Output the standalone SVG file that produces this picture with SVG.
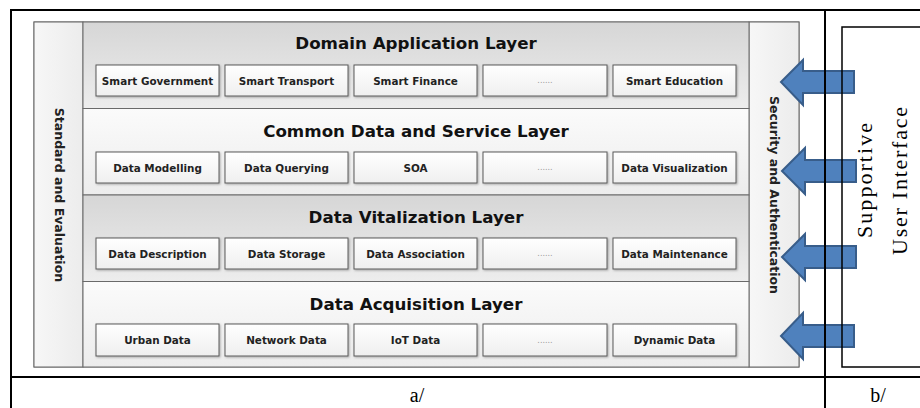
<svg xmlns="http://www.w3.org/2000/svg" width="920" height="408" viewBox="0 0 920 408">
<defs>
<linearGradient id="gDark" x1="0" y1="0" x2="0" y2="1"><stop offset="0" stop-color="#d6d6d6"/><stop offset="1" stop-color="#ededed"/></linearGradient>
<linearGradient id="gLight" x1="0" y1="0" x2="0" y2="1"><stop offset="0" stop-color="#fbfbfb"/><stop offset="1" stop-color="#ececec"/></linearGradient>
<linearGradient id="gBox" x1="0" y1="0" x2="0" y2="1"><stop offset="0" stop-color="#ffffff"/><stop offset="1" stop-color="#efefef"/></linearGradient>
<linearGradient id="gSide" x1="0" y1="0" x2="1" y2="0"><stop offset="0" stop-color="#f7f7f7"/><stop offset="1" stop-color="#ececec"/></linearGradient>
<filter id="sh" x="-5%" y="-10%" width="115%" height="130%"><feDropShadow dx="1" dy="1" stdDeviation="0.8" flood-color="#000" flood-opacity="0.3"/></filter>
</defs>
<style>
.layer{stroke:#6a6a6a;stroke-width:1}
.box{fill:url(#gBox);stroke:#5a5a5a;stroke-width:1;filter:url(#sh)}
.title{font-family:"DejaVu Sans",Verdana,sans-serif;font-weight:bold;font-size:16.7px;fill:#111;text-anchor:middle}
.bt{font-family:"DejaVu Sans",Verdana,sans-serif;font-weight:bold;font-size:10.4px;fill:#222;text-anchor:middle}
.dots{font-family:"DejaVu Sans",Verdana,sans-serif;font-size:8px;fill:#999;text-anchor:middle}
.vt{font-family:"DejaVu Sans",Verdana,sans-serif;font-weight:bold;font-size:12.5px;fill:#222;text-anchor:middle}
.arrow{fill:#4f81bd;stroke:#385d8a;stroke-width:2;stroke-linejoin:miter}
.tl{fill:none;stroke:#000;stroke-width:2}
.serif{font-family:"Liberation Serif","Times New Roman",serif;fill:#000}
</style>
<rect width="920" height="408" fill="#fff"/>

<g id="diagram-frame">
<rect x="34" y="22" width="765" height="345" fill="#f2f2f2" stroke="#666" stroke-width="1"/>
</g>

<g id="standard-evaluation">
<rect x="34" y="22" width="49" height="345" fill="url(#gSide)" stroke="#666" stroke-width="1"/>
<text class="vt" transform="translate(55,195) rotate(90)">Standard and Evaluation</text>
</g>

<g id="security-authentication">
<rect x="749" y="22" width="50" height="345" fill="url(#gSide)" stroke="#666" stroke-width="1"/>
<text class="vt" transform="translate(769.5,195) rotate(90)">Security and Authentication</text>
</g>

<g id="domain-layer">
<rect class="layer" x="83" y="22" width="666" height="86.5" fill="url(#gDark)"/>
<text class="title" x="416" y="49">Domain Application Layer</text>
<rect class="box" x="96" y="65" width="123" height="31"/><text class="bt" x="157.5" y="84.5">Smart Government</text>
<rect class="box" x="225" y="65" width="123" height="31"/><text class="bt" x="286.5" y="84.5">Smart Transport</text>
<rect class="box" x="354" y="65" width="123" height="31"/><text class="bt" x="415.5" y="84.5">Smart Finance</text>
<rect class="box" x="483" y="65" width="124" height="31"/><text class="dots" x="545" y="83">......</text>
<rect class="box" x="613" y="65" width="123" height="31"/><text class="bt" x="674.5" y="84.5">Smart Education</text>
</g>

<g id="common-layer">
<rect class="layer" x="83" y="108.5" width="666" height="86.5" fill="url(#gLight)"/>
<text class="title" x="416" y="137">Common Data and Service Layer</text>
<rect class="box" x="96" y="152" width="123" height="31"/><text class="bt" x="157.5" y="171.5">Data Modelling</text>
<rect class="box" x="225" y="152" width="123" height="31"/><text class="bt" x="286.5" y="171.5">Data Querying</text>
<rect class="box" x="354" y="152" width="123" height="31"/><text class="bt" x="415.5" y="171.5">SOA</text>
<rect class="box" x="483" y="152" width="124" height="31"/><text class="dots" x="545" y="170">......</text>
<rect class="box" x="613" y="152" width="123" height="31"/><text class="bt" x="674.5" y="171.5">Data Visualization</text>
</g>

<g id="vitalization-layer">
<rect class="layer" x="83" y="195" width="666" height="86.5" fill="url(#gDark)"/>
<text class="title" x="416" y="223">Data Vitalization Layer</text>
<rect class="box" x="96" y="238" width="123" height="31"/><text class="bt" x="157.5" y="257.5">Data Description</text>
<rect class="box" x="225" y="238" width="123" height="31"/><text class="bt" x="286.5" y="257.5">Data Storage</text>
<rect class="box" x="354" y="238" width="123" height="31"/><text class="bt" x="415.5" y="257.5">Data Association</text>
<rect class="box" x="483" y="238" width="124" height="31"/><text class="dots" x="545" y="256">......</text>
<rect class="box" x="613" y="238" width="123" height="31"/><text class="bt" x="674.5" y="257.5">Data Maintenance</text>
</g>

<g id="acquisition-layer">
<rect class="layer" x="83" y="281.5" width="666" height="85.5" fill="url(#gLight)"/>
<text class="title" x="416" y="310">Data Acquisition Layer</text>
<rect class="box" x="96" y="324" width="123" height="32"/><text class="bt" x="157.5" y="344">Urban Data</text>
<rect class="box" x="225" y="324" width="123" height="32"/><text class="bt" x="286.5" y="344">Network Data</text>
<rect class="box" x="354" y="324" width="123" height="32"/><text class="bt" x="415.5" y="344">IoT Data</text>
<rect class="box" x="483" y="324" width="124" height="32"/><text class="dots" x="545" y="343">......</text>
<rect class="box" x="613" y="324" width="123" height="32"/><text class="bt" x="674.5" y="344">Dynamic Data</text>
</g>

<g id="connectors">
<polygon class="arrow" points="781,82 803,60 803,71 854,71 854,93 803,93 803,105"/>
<polygon class="arrow" points="782,171 805,148 805,160 856,160 856,182 805,182 805,194"/>
<polygon class="arrow" points="782,257 805,234 805,246 856,246 856,268 805,268 805,280"/>
<polygon class="arrow" points="781,336 803,313 803,325 854,325 854,347 803,347 803,359"/>
</g>

<g id="supportive-ui">
<rect x="842" y="27" width="100" height="340" fill="none" stroke="#000" stroke-width="1.5"/>
<text class="serif" font-size="22" text-anchor="middle" textLength="115" lengthAdjust="spacing" transform="translate(872,180.5) rotate(-90)">Supportive</text>
<text class="serif" font-size="22" text-anchor="middle" textLength="148" lengthAdjust="spacing" transform="translate(907,181) rotate(-90)">User Interface</text>
</g>

<g id="table">
<line class="tl" x1="11" y1="10" x2="920" y2="10"/>
<line class="tl" x1="11" y1="9" x2="11" y2="408"/>
<line class="tl" x1="825" y1="10" x2="825" y2="408"/>
<line class="tl" x1="11" y1="377" x2="920" y2="377"/>
<text class="serif" font-size="20" x="417" y="402" text-anchor="middle">a/</text>
<text class="serif" font-size="20" x="878" y="402" text-anchor="middle">b/</text>
</g>
</svg>
